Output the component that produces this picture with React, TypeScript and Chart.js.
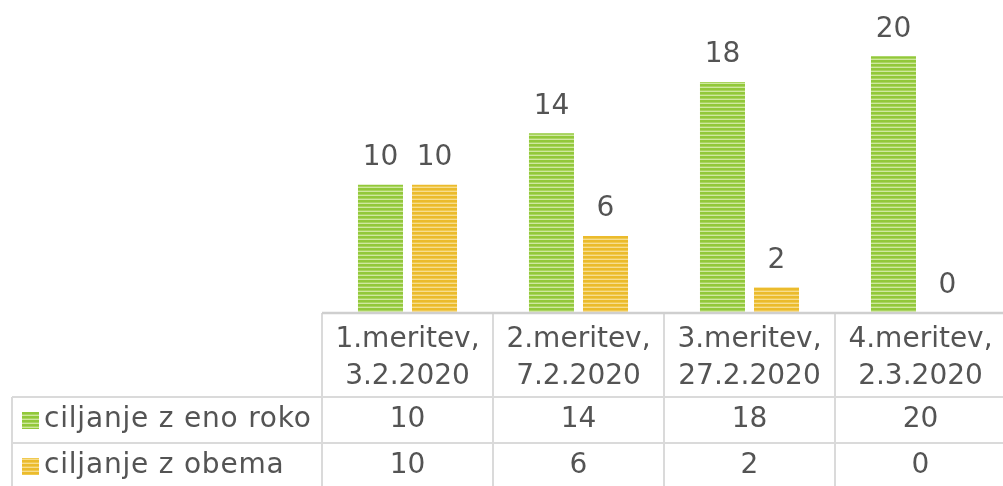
import React, { useEffect, useRef } from "react";
import { Chart, registerables } from "chart.js";

Chart.register(...registerables);

const categories: string[][] = [
  ["1.meritev,", "3.2.2020"],
  ["2.meritev,", "7.2.2020"],
  ["3.meritev,", "27.2.2020"],
  ["4.meritev,", "2.3.2020"],
];
const seriesNames = ["ciljanje z eno roko", "ciljanje z obema"];
const enoRoko = [10, 14, 18, 20];
const obema = [10, 6, 2, 0];

const FONT = '"DejaVu Sans", sans-serif';
const TEXT = "#545454";
const GRID = "#dadada";

function makePattern(base: string, mid: string, light: string): CanvasPattern | string {
  const c = document.createElement("canvas");
  c.width = 4;
  c.height = 4;
  const g = c.getContext("2d");
  if (!g) return base;
  g.fillStyle = base;
  g.fillRect(0, 0, 4, 2);
  g.fillStyle = mid;
  g.fillRect(0, 2, 4, 1);
  g.fillStyle = light;
  g.fillRect(0, 3, 4, 1);
  const p = g.createPattern(c, "repeat");
  return p || base;
}

export default function App() {
  const ref = useRef<HTMLCanvasElement>(null);
  useEffect(() => {
    document.body.style.margin = "0";
    document.body.style.overflow = "hidden";
    const canvas = ref.current;
    if (!canvas) return;
    const greenP = makePattern("#92c83a", "#a9d45e", "#cfe89f");
    const yellowP = makePattern("#ebbb2c", "#f0c94f", "#f7dd8e");
    const fills = [greenP, yellowP];

    const tablePlugin = {
      id: "tablePlugin",
      afterDraw(chart: any) {
        const ctx = chart.ctx as CanvasRenderingContext2D;
        const area = chart.chartArea;
        const xs = chart.scales.x;
        const n = categories.length;
        const step = n > 1 ? xs.getPixelForValue(1) - xs.getPixelForValue(0) : area.right - area.left;
        const base = area.bottom;
        const headerBottom = base + 84;
        const row1Bottom = headerBottom + 46;
        const row2Bottom = row1Bottom + 46;
        const tableLeft = 12;
        ctx.save();
        // data labels
        ctx.fillStyle = TEXT;
        ctx.font = `28px ${FONT}`;
        ctx.textAlign = "center";
        ctx.textBaseline = "middle";
        chart.data.datasets.forEach((ds: any, di: number) => {
          const meta = chart.getDatasetMeta(di);
          meta.data.forEach((bar: any, i: number) => {
            ctx.fillText(String(ds.data[i]), bar.x, bar.y - 27);
          });
        });
        // grid lines
        ctx.strokeStyle = GRID;
        ctx.lineWidth = 2;
        ctx.beginPath();
        for (let i = 0; i <= n; i++) {
          const x = xs.getPixelForValue(0) - step / 2 + i * step;
          ctx.moveTo(x, base);
          ctx.lineTo(x, row2Bottom);
        }
        ctx.moveTo(tableLeft, headerBottom);
        ctx.lineTo(tableLeft, row2Bottom);
        ctx.moveTo(tableLeft, headerBottom);
        ctx.lineTo(area.right + 10, headerBottom);
        ctx.moveTo(tableLeft, row1Bottom);
        ctx.lineTo(area.right + 10, row1Bottom);
        ctx.stroke();
        ctx.strokeStyle = "#cfcfcf";
        ctx.lineWidth = 2.5;
        ctx.beginPath();
        ctx.moveTo(area.left, base);
        ctx.lineTo(area.right + 10, base);
        ctx.stroke();
        // header text
        ctx.fillStyle = TEXT;
        ctx.font = `28px ${FONT}`;
        categories.forEach((lines, i) => {
          const x = xs.getPixelForValue(i);
          ctx.fillText(lines[0], x, base + 27);
          ctx.fillText(lines[1], x, base + 64);
        });
        // rows
        const rowsData = [enoRoko, obema];
        const rowCenters = [headerBottom + 23, row1Bottom + 23];
        rowsData.forEach((vals, r) => {
          ctx.textAlign = "center";
          vals.forEach((v, i) => {
            ctx.fillText(String(v), xs.getPixelForValue(i), rowCenters[r]);
          });
          ctx.fillStyle = fills[r] as any;
          ctx.fillRect(22, rowCenters[r] - 8, 17, 17);
          ctx.fillStyle = TEXT;
          ctx.textAlign = "left";
          (ctx as any).letterSpacing = "0.8px";
          ctx.fillText(seriesNames[r], 44, rowCenters[r]);
          (ctx as any).letterSpacing = "0px";
        });
        ctx.restore();
      },
    };

    const chart = new Chart(canvas, {
      type: "bar",
      data: {
        labels: categories.map((c) => c.join(" ")),
        datasets: [
          {
            label: seriesNames[0],
            data: enoRoko,
            backgroundColor: greenP as any,
            borderWidth: 0,
            categoryPercentage: 0.632,
            barPercentage: 0.833,
          },
          {
            label: seriesNames[1],
            data: obema,
            backgroundColor: yellowP as any,
            borderWidth: 0,
            categoryPercentage: 0.632,
            barPercentage: 0.833,
          },
        ],
      },
      options: {
        animation: false,
        responsive: false,
        maintainAspectRatio: false,
        layout: { padding: { left: 322, right: 4, top: 5, bottom: 173 } },
        plugins: { legend: { display: false }, tooltip: { enabled: false } },
        scales: {
          x: { display: false },
          y: { display: false, min: 0, max: 24 },
        },
      },
      plugins: [tablePlugin],
    });
    return () => chart.destroy();
  }, []);
  return (
    <div style={{ position: "fixed", left: 0, top: 0, width: 1010, height: 486, background: "#fff" }}>
      <canvas ref={ref} width={1010} height={486} style={{ display: "block" }} />
    </div>
  );
}
